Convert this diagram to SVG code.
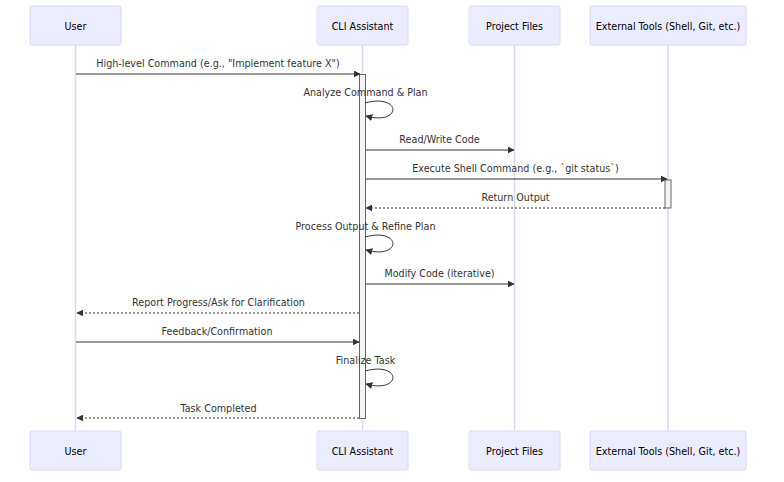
<svg xmlns="http://www.w3.org/2000/svg" width="784" height="482" viewBox="0 0 784 482">
<defs>
<marker id="arrow" viewBox="0 0 10 10" refX="9" refY="5" markerWidth="7" markerHeight="7" markerUnits="userSpaceOnUse" orient="auto">
<path d="M0,0 L10,5 L0,10 z" fill="#333"/>
</marker>
</defs>
<style>
.actor{fill:#ECECFF;stroke:#DCD6F7;stroke-width:1}
.atext{font-family:"DejaVu Sans",sans-serif;font-size:9.6px;fill:#000;text-anchor:middle}
.life{stroke:#DCD6F7;stroke-width:1.5}
.act{fill:#F4F4F4;stroke:#666;stroke-width:1}
.msg{stroke:#333;stroke-width:1;fill:none}
.dash{stroke-dasharray:2,2}
.mtext{font-family:"DejaVu Sans",sans-serif;font-size:9.6px;fill:#333;text-anchor:middle}
</style>
<rect width="784" height="482" fill="#fff"/>
<g id="lifelines">
<line class="life" x1="75.5" y1="45" x2="75.5" y2="431"/>
<line class="life" x1="362.5" y1="45" x2="362.5" y2="431"/>
<line class="life" x1="514.5" y1="45" x2="514.5" y2="431"/>
<line class="life" x1="668" y1="45" x2="668" y2="431"/>
</g>
<g id="actor-user-top"><rect class="actor" x="30" y="6" width="91" height="39" rx="2"/><text class="atext" x="75.5" y="29.5">User</text></g>
<g id="actor-cli-top"><rect class="actor" x="317" y="6" width="91" height="39" rx="2"/><text class="atext" x="362.5" y="29.5">CLI Assistant</text></g>
<g id="actor-files-top"><rect class="actor" x="469" y="6" width="91" height="39" rx="2"/><text class="atext" x="514.5" y="29.5">Project Files</text></g>
<g id="actor-tools-top"><rect class="actor" x="590" y="6" width="156" height="39" rx="2"/><text class="atext" x="668" y="29.5">External Tools (Shell, Git, etc.)</text></g>
<g id="actor-user-bottom"><rect class="actor" x="30" y="431" width="91" height="39" rx="2"/><text class="atext" x="75.5" y="454.5">User</text></g>
<g id="actor-cli-bottom"><rect class="actor" x="317" y="431" width="91" height="39" rx="2"/><text class="atext" x="362.5" y="454.5">CLI Assistant</text></g>
<g id="actor-files-bottom"><rect class="actor" x="469" y="431" width="91" height="39" rx="2"/><text class="atext" x="514.5" y="454.5">Project Files</text></g>
<g id="actor-tools-bottom"><rect class="actor" x="590" y="431" width="156" height="39" rx="2"/><text class="atext" x="668" y="454.5">External Tools (Shell, Git, etc.)</text></g>
<g id="activations">
<rect class="act" x="359.5" y="74.5" width="6" height="344"/>
<rect class="act" x="665" y="180" width="6" height="28"/>
</g>
<g id="connectors">
<line class="msg" x1="76" y1="74" x2="360" y2="74" marker-end="url(#arrow)"/>
<path class="msg" d="M365,103 C402,93 402,126 366,116" marker-end="url(#arrow)"/>
<line class="msg" x1="366" y1="150" x2="514" y2="150" marker-end="url(#arrow)"/>
<line class="msg" x1="366" y1="179" x2="667" y2="179" marker-end="url(#arrow)"/>
<line class="msg dash" x1="665" y1="208" x2="366" y2="208" marker-end="url(#arrow)"/>
<path class="msg" d="M365,237 C402,227 402,260 366,250" marker-end="url(#arrow)"/>
<line class="msg" x1="366" y1="284" x2="514" y2="284" marker-end="url(#arrow)"/>
<line class="msg dash" x1="359" y1="313" x2="77" y2="313" marker-end="url(#arrow)"/>
<line class="msg" x1="76" y1="342" x2="359" y2="342" marker-end="url(#arrow)"/>
<path class="msg" d="M365,371 C402,361 402,394 366,384" marker-end="url(#arrow)"/>
<line class="msg dash" x1="359" y1="418" x2="77" y2="418" marker-end="url(#arrow)"/>
</g>
<g id="labels">
<text class="mtext" x="218" y="67">High-level Command (e.g., "Implement feature X")</text>
<text class="mtext" x="365.5" y="96">Analyze Command &amp; Plan</text>
<text class="mtext" x="439.5" y="143">Read/Write Code</text>
<text class="mtext" x="515.5" y="172">Execute Shell Command (e.g., `git status`)</text>
<text class="mtext" x="515.5" y="201">Return Output</text>
<text class="mtext" x="365.5" y="230">Process Output &amp; Refine Plan</text>
<text class="mtext" x="439.5" y="277">Modify Code (iterative)</text>
<text class="mtext" x="218.5" y="306">Report Progress/Ask for Clarification</text>
<text class="mtext" x="217" y="335">Feedback/Confirmation</text>
<text class="mtext" x="365.5" y="364">Finalize Task</text>
<text class="mtext" x="218.5" y="412">Task Completed</text>
</g>
</svg>
